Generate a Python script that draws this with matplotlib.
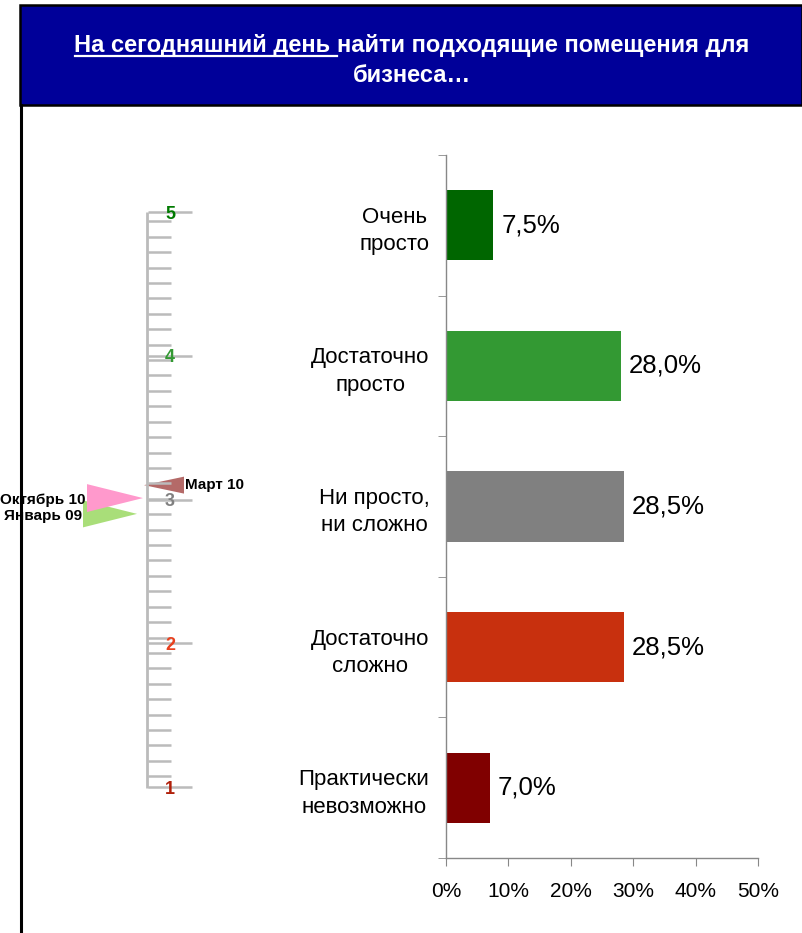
import numpy as np
import matplotlib
matplotlib.use("Agg")
import matplotlib.pyplot as plt
from matplotlib.patches import Polygon, Rectangle
from matplotlib.lines import Line2D

plt.rcParams['font.family'] = ['Liberation Sans', 'DejaVu Sans']

# --- data ---------------------------------------------------------------
title_underlined = "На сегодняшний день"
title_rest = "найти подходящие помещения для"
title_line2 = "бизнеса…"

categories = ['Очень\nпросто', 'Достаточно\nпросто', 'Ни просто,\nни сложно',
              'Достаточно\nсложно', 'Практически\nневозможно']
shares = [7.5, 28.0, 28.5, 28.5, 7.0]
value_labels = ['7,5%', '28,0%', '28,5%', '28,5%', '7,0%']
bar_colors = ['#006600', '#339933', '#808080', '#C8300E', '#800000']
x_ticks = [0, 10, 20, 30, 40, 50]

scale_values = [5, 4, 3, 2, 1]
scale_colors = ['#007A00', '#339933', '#808080', '#E8401E', '#B0200A']

# drawn in this order: green, pink, brown on top
marker_names = ['Январь 09', 'Октябрь 10', 'Март 10']
marker_scores = [2.90, 3.01, 3.10]
marker_colors = ['#A9DE79', '#FF99CC', '#B46A68']

W, H = 802, 933
fig = plt.figure(figsize=(W / 100, H / 100), dpi=100)
fig.patch.set_facecolor('white')


def fx(x):
    return x / W


def fy(y):
    return 1 - y / H


# --- frame and header ---------------------------------------------------
fig.add_artist(Rectangle((fx(20), fy(105)), fx(W) - fx(20), fy(5) - fy(105),
                         transform=fig.transFigure, facecolor='#000099',
                         edgecolor='black', lw=1.8))
fig.add_artist(Line2D([fx(21), fx(21)], [fy(105), 0], transform=fig.transFigure,
                      color='black', lw=2.2))

title_kw = dict(color='white', fontsize=17, fontweight='bold', va='baseline')
fig.canvas.draw()
r = fig.canvas.get_renderer()
probe = fig.text(0, 0, title_underlined + " " + title_rest, **title_kw)
w_full = probe.get_window_extent(r).width
probe.set_text(title_underlined)
w_a = probe.get_window_extent(r).width
probe.set_text(title_rest)
w_b = probe.get_window_extent(r).width
probe.remove()
space = w_full - w_a - w_b

cx = 412
x0 = cx - w_full / 2
base1 = 52
fig.text(fx(x0), fy(base1), title_underlined + " ", ha='left', **title_kw)
fig.text(fx(x0 + w_a + space), fy(base1), title_rest, ha='left', **title_kw)
fig.add_artist(Line2D([fx(x0), fx(x0 + w_a + space)], [fy(base1 + 4), fy(base1 + 4)],
                      transform=fig.transFigure, color='white', lw=1.6))
fig.text(fx(cx), fy(82), title_line2, ha='center', **title_kw)

# --- left scale ---------------------------------------------------------
sax = fig.add_axes([0, fy(787), fx(260), fy(212) - fy(787)])
sax.set_xlim(0, 260)
sax.set_ylim(1, 5)
sax.axis('off')

grey = '#BBBBBB'
sax.vlines(147, 0.99, 5.0, color=grey, lw=2, clip_on=False)
minor = np.linspace(4.935, 1.0745, 37)
sax.hlines(minor, 148, 171, color=grey, lw=1.8, clip_on=False)
sax.hlines(scale_values, 148, 192, color=grey, lw=1.8, clip_on=False)
for v, c in zip(scale_values, scale_colors):
    sax.text(170, v - 0.015, str(v), color=c, fontsize=13, fontweight='bold',
             ha='center', va='center', clip_on=False)

tip_x = [137, 143, 144]
base_x = [83, 87, 184]
half_h = [0.094, 0.097, 0.059]
label_dy = [-0.015, -0.012, 0.0]
for name, s, c, tx, bx, hh, dy in zip(marker_names, marker_scores, marker_colors,
                                      tip_x, base_x, half_h, label_dy):
    sax.add_patch(Polygon([(tx, s), (bx, s + hh), (bx, s - hh)], closed=True,
                          facecolor=c, edgecolor='none', clip_on=False))
    if bx > tx:
        sax.text(bx + 1, s + dy, name, ha='left', va='center', fontsize=11,
                 fontweight='bold', clip_on=False)
    else:
        sax.text(bx - 1, s + dy, name, ha='right', va='center', fontsize=11,
                 fontweight='bold', clip_on=False)

# --- bar chart ----------------------------------------------------------
ax = fig.add_axes([fx(446), fy(858), fx(758) - fx(446), fy(155) - fy(858)])
ypos = np.arange(len(categories))
ax.barh(ypos, shares, height=0.5, color=bar_colors)
ax.set_xlim(0, 50)
ax.set_ylim(len(categories) - 0.5, -0.5)

for y, v, lbl in zip(ypos, shares, value_labels):
    ax.annotate(lbl, (v, y), xytext=(6, 0), textcoords='offset points',
                ha='left', va='center', fontsize=18.5)

ax.set_xticks(x_ticks)
ax.set_xticklabels([f'{t}%' for t in x_ticks], fontsize=15)
ax.set_yticks(ypos)
ax.set_yticklabels(categories, fontsize=16, ha='right', multialignment='center')
for lbl in ax.get_yticklabels():
    lbl.set_linespacing(1.4)
ax.set_yticks(np.arange(-0.5, len(categories)), minor=True)

for side in ['top', 'right']:
    ax.spines[side].set_visible(False)
for side in ['left', 'bottom']:
    ax.spines[side].set_color('#888888')
    ax.spines[side].set_linewidth(1)

ax.tick_params(axis='x', direction='out', length=6, color='#888888', pad=11)
ax.tick_params(axis='y', which='major', length=0, pad=12)
ax.tick_params(axis='y', which='minor', direction='out', length=6, color='#888888')

fig.savefig('out.png', dpi=100)
